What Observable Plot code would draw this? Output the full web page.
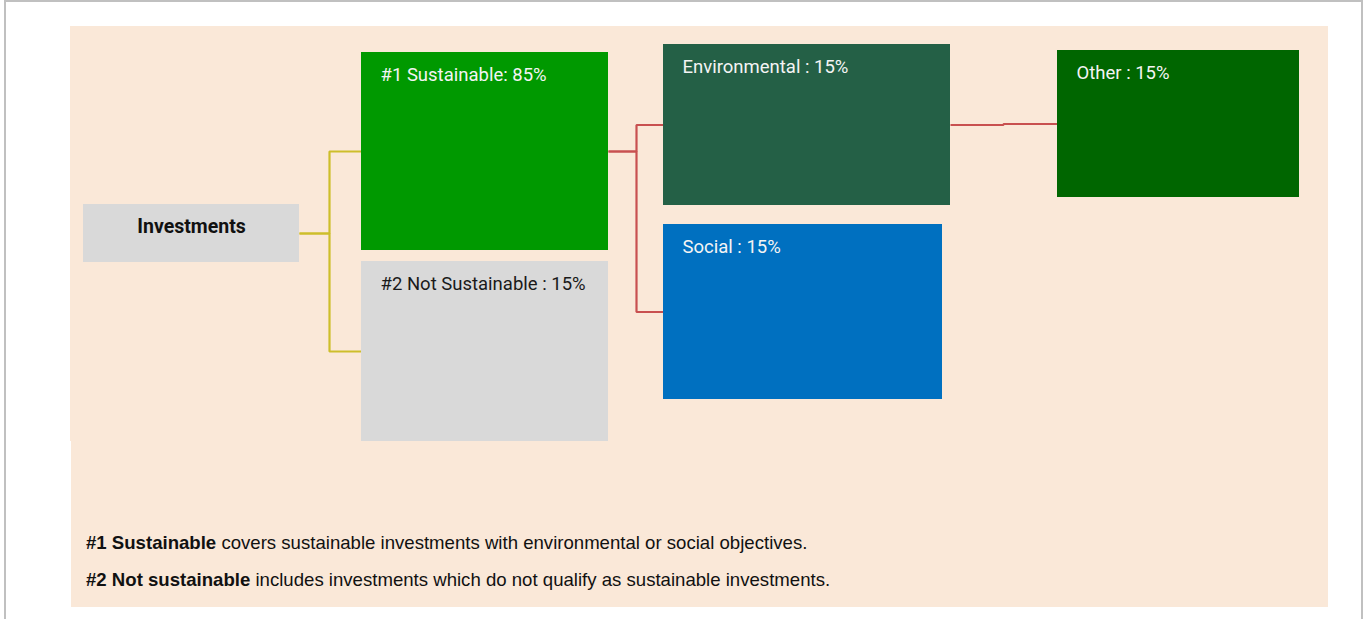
<!DOCTYPE html>
<html>
<head>
<meta charset="utf-8">
<script src="https://cdn.jsdelivr.net/npm/d3@7"></script>
<script src="https://cdn.jsdelivr.net/npm/@observablehq/plot@0.6"></script>
<style>
  html, body { margin: 0; padding: 0; background: #ffffff; width: 1367px; height: 619px; overflow: hidden; }
  .frame { position: absolute; left: 4px; top: 0px; width: 1359px; height: 700px; border: 2px solid #c0c0c0; box-sizing: border-box; }
  .panel { position: absolute; background: #FAE8D8; }
  #chart { position: absolute; left: 0; top: 0; }
  .note { position: absolute; left: 86px; font-family: "Liberation Sans", Arial, sans-serif; font-size: 18.6px; line-height: 1.15; color: #111; white-space: nowrap; }
  .note b { font-weight: 700; }
</style>
</head>
<body>
<div class="frame"></div>
<div class="panel" style="left:70px;top:26px;width:1258px;height:415px;"></div>
<div class="panel" style="left:71px;top:441px;width:1257px;height:166px;"></div>
<div id="chart"></div>
<div class="note" style="top:532px;"><b>#1 Sustainable</b> covers sustainable investments with environmental or social objectives.</div>
<div class="note" style="top:569px;"><b>#2 Not sustainable</b> includes investments which do not qualify as sustainable investments.</div>
<script>
// ---- data ----
const categories = ["Investments", "#1 Sustainable", "#2 Not Sustainable", "Environmental", "Social", "Other"];
const shares = [null, 85, 15, 15, 15, 15];
const separators = ["", ": ", " : ", " : ", " : ", " : "];
const parents = [null, "Investments", "Investments", "#1 Sustainable", "#1 Sustainable", "Environmental"];

// ---- layout & style (page pixels) ----
const boxLayout = {
  "Investments":        [83, 204, 299, 262],
  "#1 Sustainable":     [361, 52, 608, 250],
  "#2 Not Sustainable": [361, 261, 608, 441],
  "Environmental":      [663, 44, 950, 205],
  "Social":             [663, 224, 942, 399],
  "Other":              [1057, 50, 1299, 197]
};
const elbowX = {"Investments": 329, "#1 Sustainable": 636, "Environmental": 1003};
const boxFill = {
  "Investments": "#D9D9D9", "#1 Sustainable": "#009900", "#2 Not Sustainable": "#D9D9D9",
  "Environmental": "#246046", "Social": "#0070C0", "Other": "#006600"
};
const textFill = {
  "Investments": "#111111", "#1 Sustainable": "#F4F4F4", "#2 Not Sustainable": "#1A1A1A",
  "Environmental": "#F4F4F4", "Social": "#F4F4F4", "Other": "#F4F4F4"
};
const linkColor = {"Investments": "#CDBE2B", "#1 Sustainable": "#C85050", "Environmental": "#C85050"};

const nodes = categories.map((name, i) => {
  const [x1, y1, x2, y2] = boxLayout[name];
  return {
    name, x1, y1, x2, y2, cy: (y1 + y2) / 2,
    fill: boxFill[name], color: textFill[name],
    label: shares[i] == null ? name : `${name}${separators[i]}${shares[i]}%`
  };
});
const byName = Object.fromEntries(nodes.map(d => [d.name, d]));

const linkPts = [];
categories.forEach((name, i) => {
  const p = parents[i];
  if (!p) return;
  const P = byName[p], C = byName[name], ex = elbowX[p];
  const stroke = linkColor[p];
  [[P.x2, P.cy], [ex, P.cy], [ex, C.cy], [C.x1, C.cy]].forEach(([x, y]) =>
    linkPts.push({id: name, x, y, stroke}));
});

const W = 1367, H = 450;
const root = nodes.filter(d => d.name === "Investments");
const others = nodes.filter(d => d.name !== "Investments");

const chart = Plot.plot({
  width: W, height: H, margin: 0,
  x: {domain: [0, W], range: [0, W], axis: null},
  y: {domain: [0, H], range: [0, H], axis: null},
  color: {type: "identity"},
  style: {background: "transparent", overflow: "visible"},
  marks: [
    Plot.line(linkPts, {x: "x", y: "y", z: "id", stroke: "stroke", strokeWidth: 2.2, strokeLinejoin: "miter", strokeLinecap: "butt"}),
    Plot.rect(nodes, {x1: "x1", x2: "x2", y1: "y1", y2: "y2", fill: "fill"}),
    Plot.text(root, {x: d => (d.x1 + d.x2) / 2, y: d => d.cy - 7, text: "label", fill: "color",
      fontFamily: "Roboto", fontWeight: 700, fontSize: 19.5, textAnchor: "middle"}),
    Plot.text(others, {x: d => d.x1 + 19, y: d => d.y1 + 23, text: "label", fill: "color",
      fontFamily: "Roboto", fontSize: 18.5, textAnchor: "start"})
  ]
});
document.getElementById("chart").appendChild(chart);
</script>
</body>
</html>
